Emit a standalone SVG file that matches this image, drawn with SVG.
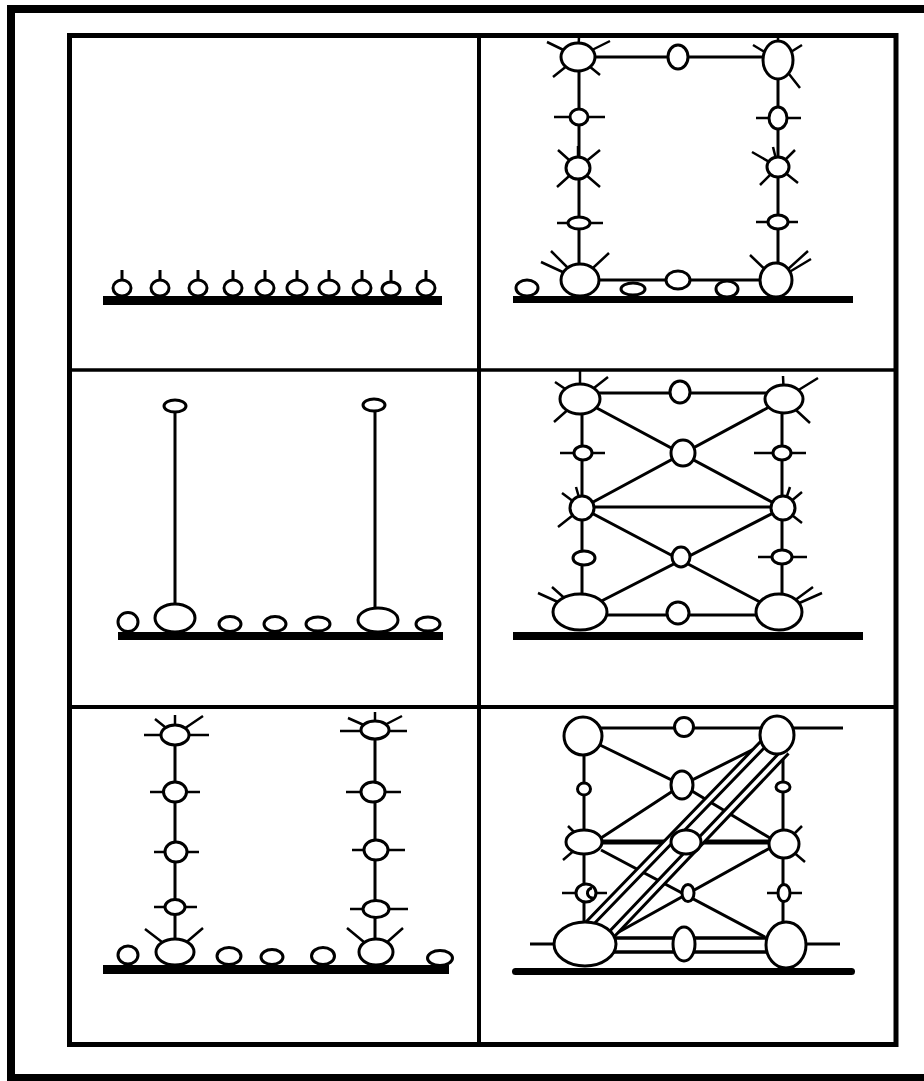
<svg xmlns="http://www.w3.org/2000/svg" width="924" height="1081" viewBox="0 0 924 1081">
<style>
.n{fill:#fff;stroke:#000;stroke-width:3}
.s{stroke:#000;stroke-width:2.5;fill:none}
.c{stroke:#000;stroke-width:3;fill:none}
.g{fill:#000}
.fr{fill:none;stroke:#000}
</style>
<rect width="924" height="1081" fill="#fff"/>
<g id="frame">
<rect class="fr" x="11" y="9" width="930" height="1069" stroke-width="8"/>
<rect class="fr" x="69.5" y="35.5" width="826.5" height="1009" stroke-width="5"/>
<line class="fr" x1="479" y1="35" x2="479" y2="1044" stroke-width="4"/>
<line class="fr" x1="69" y1="370" x2="896" y2="370" stroke-width="3.5"/>
<line class="fr" x1="69" y1="707" x2="896" y2="707" stroke-width="4"/>
</g>
<g id="grounds">
<rect class="g" x="103" y="296" width="339" height="9"/>
<rect class="g" x="513" y="296" width="340" height="7"/>
<rect class="g" x="118" y="632" width="325" height="8"/>
<rect class="g" x="513" y="632" width="350" height="8"/>
<rect class="g" x="103" y="965" width="346" height="9"/>
<rect class="g" x="512" y="968" width="343" height="7" rx="3.5"/>
</g>
<g id="connectors">
<path class="c" d="M578 57H778M579 57V280M778 60V280M580 280H776"/>
<path class="c" d="M175 406V617M375 405V620"/>
<path class="c" d="M580 393H784M582 399V612M782 399V612M582 507H783M580 615H779M580 399L783 508M784 399L582 508M582 508L779 612M783 508L580 612"/>
<path class="c" d="M175 735V952M375 730V952"/>
<path class="c" d="M583 728H843M584 736V943M783 735V945M530 944H560M806 944H840M600 745L682 785L760 746M682 785L601 838M682 785L770 838M601 850L765 937M770 848L617 933"/>
<path class="c" style="stroke-width:3.5" d="M590 938H780M590 952H780"/>
<path class="c" style="stroke-width:5" d="M584 842H784"/>
<path class="c" style="stroke-width:10" d="M587 926L765 742M610 936L786 751"/>
<path style="stroke:#fff;stroke-width:4;fill:none" d="M587 926L765 742M610 936L786 751"/>
</g>
<g id="p1-nodes">
<path class="s" style="stroke-width:3" d="M122 270V282M160 270V282M198 270V282M233 270V282M265 270V282M297 270V282M329 270V282M362 270V282M391 270V282M426 270V282"/>
<g id="p1-n1"><ellipse class="n" cx="122" cy="288" rx="9" ry="8"/></g>
<g id="p1-n2"><ellipse class="n" cx="160" cy="288" rx="9" ry="8"/></g>
<g id="p1-n3"><ellipse class="n" cx="198" cy="288" rx="9" ry="8"/></g>
<g id="p1-n4"><ellipse class="n" cx="233" cy="288" rx="9" ry="8"/></g>
<g id="p1-n5"><ellipse class="n" cx="265" cy="288" rx="9" ry="8"/></g>
<g id="p1-n6"><ellipse class="n" cx="297" cy="288" rx="10" ry="8"/></g>
<g id="p1-n7"><ellipse class="n" cx="329" cy="288" rx="10" ry="8"/></g>
<g id="p1-n8"><ellipse class="n" cx="362" cy="288" rx="9" ry="8"/></g>
<g id="p1-n9"><ellipse class="n" cx="391" cy="289" rx="9" ry="7"/></g>
<g id="p1-n10"><ellipse class="n" cx="426" cy="288" rx="9" ry="8"/></g>
</g>
<g id="p2-nodes">
<g id="p2-tl"><path class="s" d="M578 57L547 42M578 57L579 37M578 57L610 41M578 57L553 77M578 57L600 75"/><ellipse class="n" cx="578" cy="57" rx="17" ry="14"/></g>
<g id="p2-tm"><ellipse class="n" cx="678" cy="57" rx="10" ry="12"/></g>
<g id="p2-tr"><path class="s" d="M778 60L753 45M778 60L778 38M778 60L802 45M778 60L800 88"/><ellipse class="n" cx="778" cy="60" rx="15" ry="19"/></g>
<g id="p2-l1"><path class="s" d="M554 117H605"/><ellipse class="n" cx="579" cy="117" rx="9" ry="8"/></g>
<g id="p2-l2"><path class="s" d="M578 168L558 150M578 168L578 146M578 168L600 150M578 168L557 187M578 168L600 187"/><ellipse class="n" cx="578" cy="168" rx="12" ry="11"/></g>
<g id="p2-l3"><path class="s" d="M557 223H603"/><ellipse class="n" cx="579" cy="223" rx="11" ry="6"/></g>
<g id="p2-l4"><path class="s" d="M580 280L541 262M580 280L551 251M580 280L609 253"/><ellipse class="n" cx="580" cy="280" rx="19" ry="16"/></g>
<g id="p2-r1"><path class="s" d="M756 118H801"/><ellipse class="n" cx="778" cy="118" rx="9" ry="11"/></g>
<g id="p2-r2"><path class="s" d="M778 167L752 152M778 167L773 147M778 167L795 150M778 167L760 185M778 167L798 183"/><ellipse class="n" cx="778" cy="167" rx="11" ry="10"/></g>
<g id="p2-r3"><path class="s" d="M756 222H798"/><ellipse class="n" cx="778" cy="222" rx="10" ry="7"/></g>
<g id="p2-r4"><path class="s" d="M776 280L750 255M776 280L808 251M776 280L811 259"/><ellipse class="n" cx="776" cy="280" rx="16" ry="17"/></g>
<g id="p2-bm"><ellipse class="n" cx="678" cy="280" rx="12" ry="9"/></g>
<g id="p2-f1"><ellipse class="n" cx="527" cy="288" rx="11" ry="8"/></g>
<g id="p2-f2"><ellipse class="n" cx="633" cy="289" rx="12" ry="6"/></g>
<g id="p2-f3"><ellipse class="n" cx="727" cy="289" rx="11" ry="8"/></g>
</g>
<g id="p3-nodes">
<g id="p3-t1"><ellipse class="n" cx="175" cy="406" rx="11" ry="6"/></g>
<g id="p3-t2"><ellipse class="n" cx="374" cy="405" rx="11" ry="6"/></g>
<g id="p3-b1"><ellipse class="n" cx="128" cy="622" rx="10" ry="9.5"/></g>
<g id="p3-b2"><ellipse class="n" cx="175" cy="618" rx="20" ry="14"/></g>
<g id="p3-b3"><ellipse class="n" cx="230" cy="624" rx="11" ry="7.5"/></g>
<g id="p3-b4"><ellipse class="n" cx="275" cy="624" rx="11" ry="7.5"/></g>
<g id="p3-b5"><ellipse class="n" cx="318" cy="624" rx="12" ry="7"/></g>
<g id="p3-b6"><ellipse class="n" cx="378" cy="620" rx="20" ry="12"/></g>
<g id="p3-b7"><ellipse class="n" cx="428" cy="624" rx="12" ry="7"/></g>
</g>
<g id="p4-nodes">
<g id="p4-tl"><path class="s" d="M580 399L580 371M580 399L555 382M580 399L608 377M580 399L554 422"/><ellipse class="n" cx="580" cy="399" rx="20" ry="15"/></g>
<g id="p4-tm"><ellipse class="n" cx="680" cy="392" rx="10" ry="11"/></g>
<g id="p4-tr"><path class="s" d="M784 399L783 376M784 399L818 378M784 399L810 423"/><ellipse class="n" cx="784" cy="399" rx="19" ry="14"/></g>
<g id="p4-l1"><path class="s" d="M560 453H605"/><ellipse class="n" cx="583" cy="453" rx="9" ry="7"/></g>
<g id="p4-c1"><ellipse class="n" cx="683" cy="453" rx="12" ry="13"/></g>
<g id="p4-r1"><path class="s" d="M754 453H806"/><ellipse class="n" cx="782" cy="453" rx="9" ry="7"/></g>
<g id="p4-ml"><path class="s" d="M582 508L562 493M582 508L558 527M582 508L576 487"/><ellipse class="n" cx="582" cy="508" rx="12" ry="12"/></g>
<g id="p4-mr"><path class="s" d="M783 508L802 492M783 508L802 523M783 508L790 487"/><ellipse class="n" cx="783" cy="508" rx="12" ry="12"/></g>
<g id="p4-c2"><ellipse class="n" cx="681" cy="557" rx="9" ry="10"/></g>
<g id="p4-l2"><ellipse class="n" cx="584" cy="558" rx="11" ry="7"/></g>
<g id="p4-r2"><path class="s" d="M758 557H807"/><ellipse class="n" cx="782" cy="557" rx="10" ry="7"/></g>
<g id="p4-bl"><path class="s" d="M580 612L538 593M580 612L552 587"/><ellipse class="n" cx="580" cy="612" rx="27" ry="18"/></g>
<g id="p4-bm"><ellipse class="n" cx="678" cy="613" rx="11" ry="11"/></g>
<g id="p4-br"><path class="s" d="M779 612L822 593M779 612L813 587"/><ellipse class="n" cx="779" cy="612" rx="23" ry="18"/></g>
</g>
<g id="p5-nodes">
<g id="p5-l1"><path class="s" d="M144 735H209M175 735L175 715M175 735L155 719M175 735L203 716"/><ellipse class="n" cx="175" cy="735" rx="14" ry="10"/></g>
<g id="p5-l2"><path class="s" d="M150 792H200"/><ellipse class="n" cx="175" cy="792" rx="11.5" ry="10"/></g>
<g id="p5-l3"><path class="s" d="M154 852H199"/><ellipse class="n" cx="176" cy="852" rx="11" ry="10"/></g>
<g id="p5-l4"><path class="s" d="M154 907H197"/><ellipse class="n" cx="175" cy="907" rx="10" ry="7.5"/></g>
<g id="p5-l5"><path class="s" d="M175 952L145 929M175 952L203 928"/><ellipse class="n" cx="175" cy="952" rx="19" ry="13"/></g>
<g id="p5-r1"><path class="s" d="M340 731H407M375 730L375 712M375 730L348 718M375 730L402 716"/><ellipse class="n" cx="375" cy="730" rx="14" ry="9"/></g>
<g id="p5-r2"><path class="s" d="M346 792H401"/><ellipse class="n" cx="373" cy="792" rx="12" ry="10"/></g>
<g id="p5-r3"><path class="s" d="M352 850H405"/><ellipse class="n" cx="376" cy="850" rx="12" ry="10"/></g>
<g id="p5-r4"><path class="s" d="M350 909H408"/><ellipse class="n" cx="376" cy="909" rx="13" ry="8.5"/></g>
<g id="p5-r5"><path class="s" d="M376 952L347 928M376 952L403 928"/><ellipse class="n" cx="376" cy="952" rx="17" ry="13"/></g>
<g id="p5-f1"><ellipse class="n" cx="128" cy="955" rx="10" ry="9"/></g>
<g id="p5-f2"><ellipse class="n" cx="229" cy="956" rx="12" ry="8.5"/></g>
<g id="p5-f3"><ellipse class="n" cx="272" cy="957" rx="11" ry="7.5"/></g>
<g id="p5-f4"><ellipse class="n" cx="323" cy="956" rx="11.5" ry="8.5"/></g>
<g id="p5-f5"><ellipse class="n" cx="440" cy="958" rx="12.5" ry="7.5"/></g>
</g>
<g id="p6-nodes">
<g id="p6-tl"><ellipse class="n" cx="583" cy="736" rx="19" ry="19"/></g>
<g id="p6-tm"><ellipse class="n" cx="684" cy="727" rx="9.5" ry="9.5"/></g>
<g id="p6-tr"><ellipse class="n" cx="777" cy="735" rx="17" ry="19"/></g>
<g id="p6-l1"><ellipse class="n" cx="584" cy="789" rx="6.5" ry="6"/></g>
<g id="p6-c1"><ellipse class="n" cx="682" cy="785" rx="11" ry="14"/></g>
<g id="p6-r1"><ellipse class="n" cx="783" cy="787" rx="7" ry="5"/></g>
<g id="p6-ml"><path class="s" d="M584 842L568 826M584 842L563 860"/><ellipse class="n" cx="584" cy="842" rx="18" ry="12"/></g>
<g id="p6-mc"><ellipse class="n" cx="686" cy="842" rx="15" ry="12"/></g>
<g id="p6-mr"><path class="s" d="M784 844L802 826M784 844L805 862"/><ellipse class="n" cx="784" cy="844" rx="15" ry="14"/></g>
<g id="p6-l2"><path class="s" d="M562 893H607"/><ellipse class="n" cx="586" cy="893" rx="10" ry="9"/><path class="c" d="M592 888A5 5 0 1 0 593 898"/></g>
<g id="p6-c2"><ellipse class="n" cx="688" cy="893" rx="6" ry="8.5"/></g>
<g id="p6-r2"><path class="s" d="M767 893H802"/><ellipse class="n" cx="784" cy="893" rx="6" ry="8.5"/></g>
<g id="p6-bl"><ellipse class="n" cx="585" cy="944" rx="31" ry="22"/></g>
<g id="p6-bm"><ellipse class="n" cx="684" cy="944" rx="11" ry="17"/></g>
<g id="p6-br"><ellipse class="n" cx="786" cy="945" rx="20" ry="23"/></g>
</g>
</svg>
